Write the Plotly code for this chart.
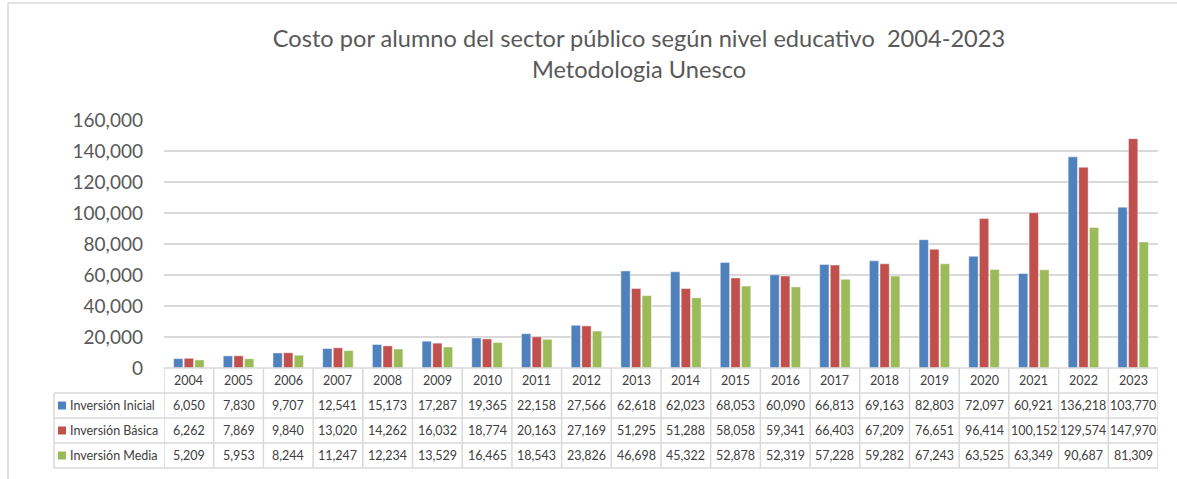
import plotly.graph_objects as go

years = [str(y) for y in range(2004, 2024)]
series_names = ["Inversión Inicial", "Inversión Básica", "Inversión Media"]
inicial = [6050, 7830, 9707, 12541, 15173, 17287, 19365, 22158, 27566, 62618,
           62023, 68053, 60090, 66813, 69163, 82803, 72097, 60921, 136218, 103770]
basica = [6262, 7869, 9840, 13020, 14262, 16032, 18774, 20163, 27169, 51295,
          51288, 58058, 59341, 66403, 67209, 76651, 96414, 100152, 129574, 147970]
media = [5209, 5953, 8244, 11247, 12234, 13529, 16465, 18543, 23826, 46698,
         45322, 52878, 52319, 57228, 59282, 67243, 63525, 63349, 90687, 81309]
colors = ["#4F81BD", "#C0504D", "#9BBB59"]
all_series = [inicial, basica, media]

W, H = 1177, 479
L, R, T, B = 164, 19, 120, 111
PW, PH = W - L - R, H - T - B

def py(pix):  # pixel y -> paper y
    return (H - B - pix) / PH

def px(pix):  # pixel x -> paper x
    return (pix - L) / PW

fig = go.Figure()
for name, vals, c in zip(series_names, all_series, colors):
    fig.add_trace(go.Bar(x=years, y=vals, name=name, marker_color=c,
                         marker_line=dict(color="rgba(255,255,255,0.45)", width=1)))

grid = "#D9D9D9"
shapes = []
annotations = []
row_h = 25
table_top = H - B
rows_y = [table_top + row_h * k for k in range(5)]  # 368,393,418,443,468
n = len(years)
for i in range(n + 1):
    shapes.append(dict(type="line", xref="x", yref="paper", x0=i - 0.5, x1=i - 0.5,
                       y0=py(rows_y[0]), y1=py(rows_y[4]), line=dict(color=grid, width=1.5)))
shapes.append(dict(type="line", xref="paper", yref="paper", x0=px(54), x1=px(54),
                   y0=py(rows_y[1]), y1=py(rows_y[4]), line=dict(color=grid, width=1.5)))
shapes.append(dict(type="line", xref="x", yref="paper", x0=-0.5, x1=n - 0.5,
                   y0=py(rows_y[0]), y1=py(rows_y[0]), line=dict(color=grid, width=1.5)))
for k in range(1, 5):
    shapes.append(dict(type="line", xref="paper", yref="paper", x0=px(54), x1=1,
                       y0=py(rows_y[k]), y1=py(rows_y[k]), line=dict(color=grid, width=1.5)))
# outer frame
shapes.append(dict(type="line", xref="paper", yref="paper", x0=px(8), x1=px(8),
                   y0=py(3), y1=py(H), line=dict(color=grid, width=1.5)))
shapes.append(dict(type="line", xref="paper", yref="paper", x0=px(8), x1=px(W),
                   y0=py(3), y1=py(3), line=dict(color=grid, width=1.5)))

FONT = "Lato, Calibri, sans-serif"
tfont = dict(family=FONT, size=12.5, color="#404040")
for i, yr in enumerate(years):
    annotations.append(dict(x=i, xref="x", y=py(rows_y[0] + row_h / 2), yref="paper",
                            text=yr, showarrow=False, font=tfont, xanchor="center", yanchor="middle"))
for k, (name, vals, c) in enumerate(zip(series_names, all_series, colors)):
    yc = rows_y[k + 1] + row_h / 2
    shapes.append(dict(type="rect", xref="paper", yref="paper", x0=px(58), x1=px(66),
                       y0=py(yc + 4), y1=py(yc - 4), fillcolor=c, line=dict(width=0)))
    annotations.append(dict(x=px(68), xref="paper", y=py(yc), yref="paper", text=name,
                            showarrow=False, font=tfont, xanchor="left", yanchor="middle"))
    for i, v in enumerate(vals):
        annotations.append(dict(x=i, xref="x", y=py(yc), yref="paper", text=f"{v:,}",
                                showarrow=False, font=tfont, xanchor="center", yanchor="middle"))

fig.update_layout(
    width=W, height=H,
    margin=dict(l=L, r=R, t=T, b=B),
    paper_bgcolor="white", plot_bgcolor="white",
    showlegend=False,
    barmode="group", bargap=0.36, bargroupgap=0.12,
    title=dict(text="Costo por alumno del sector público según nivel educativo  2004-2023<br>Metodologia Unesco",
               x=639 / W, xanchor="center", y=1 - 47 / H, yanchor="top", yref="container",
               font=dict(family=FONT, size=23.6, color="#595959")),
    xaxis=dict(type="category", showticklabels=False, showgrid=False, zeroline=False,
               showline=False, range=[-0.5, n - 0.5]),
    yaxis=dict(range=[0, 160000], tickvals=list(range(0, 160001, 20000)), tickformat=",",
               showgrid=True, gridcolor=grid, gridwidth=1.5, zeroline=False, showline=False,
               tickfont=dict(family=FONT, size=19, color="#595959"),
               ticks="", ticklabelstandoff=20),
    shapes=shapes, annotations=annotations,
)

fig.write_html("out.html", config={"displayModeBar": False},
               post_script="document.body.style.margin='0';")
